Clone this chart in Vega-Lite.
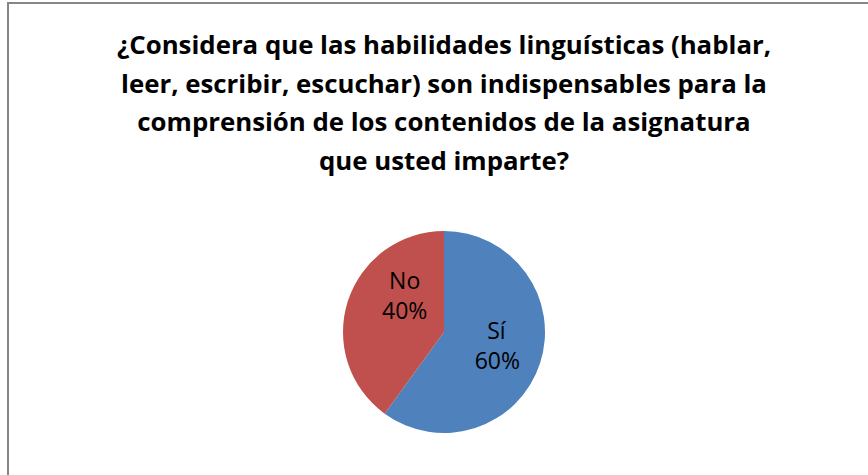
{
  "$schema": "https://vega.github.io/schema/vega-lite/v6.json",
  "autosize": {"type": "none"},
  "width": 872,
  "height": 658,
  "padding": {"left": 8, "top": 3, "right": 0, "bottom": 0},
  "background": "white",
  "view": {"stroke": "#868686", "strokeWidth": 2, "fill": "white"},
  "config": {
    "view": {"stroke": "#868686", "strokeWidth": 2},
    "font": "Open Sans"
  },
  "title": {
    "text": [
      "¿Considera que las habilidades  linguísticas (hablar,",
      "leer, escribir, escuchar) son  indispensables para la",
      "comprensión de los contenidos de la asignatura",
      "que usted imparte?"
    ],
    "orient": "top",
    "anchor": "middle",
    "frame": "group",
    "baseline": "alphabetic",
    "offset": -193,
    "font": "Open Sans",
    "fontSize": 25.8,
    "fontWeight": "bold",
    "color": "#000000",
    "lineHeight": 38.8
  },
  "data": {
    "values": [
      {"respuesta": "Sí", "valor": 60, "pct": "60%", "orden": 1},
      {"respuesta": "No", "valor": 40, "pct": "40%", "orden": 2}
    ]
  },
  "encoding": {
    "theta": {"field": "valor", "type": "quantitative", "stack": true},
    "order": {"field": "orden", "type": "quantitative"}
  },
  "layer": [
    {
      "mark": {"type": "arc", "radius": 101},
      "encoding": {
        "color": {
          "field": "respuesta",
          "type": "nominal",
          "scale": {"domain": ["Sí", "No"], "range": ["#4F81BD", "#C0504D"]},
          "legend": null
        }
      }
    },
    {
      "mark": {"type": "text", "radius": 54, "fontSize": 23, "font": "Open Sans", "color": "#000000", "baseline": "middle", "dx": 1, "dy": -17},
      "encoding": {
        "text": {"field": "respuesta"},
        "opacity": {"condition": {"test": "datum.respuesta === 'Sí'", "value": 1}, "value": 0}
      }
    },
    {
      "mark": {"type": "text", "radius": 54, "fontSize": 23, "font": "Open Sans", "color": "#000000", "baseline": "middle", "dx": 2, "dy": 13},
      "encoding": {
        "text": {"field": "pct"},
        "opacity": {"condition": {"test": "datum.respuesta === 'Sí'", "value": 1}, "value": 0}
      }
    },
    {
      "mark": {"type": "text", "radius": 54, "fontSize": 23, "font": "Open Sans", "color": "#000000", "baseline": "middle", "dx": 12, "dy": -33},
      "encoding": {
        "text": {"field": "respuesta"},
        "opacity": {"condition": {"test": "datum.respuesta === 'No'", "value": 1}, "value": 0}
      }
    },
    {
      "mark": {"type": "text", "radius": 54, "fontSize": 23, "font": "Open Sans", "color": "#000000", "baseline": "middle", "dx": 12, "dy": -3},
      "encoding": {
        "text": {"field": "pct"},
        "opacity": {"condition": {"test": "datum.respuesta === 'No'", "value": 1}, "value": 0}
      }
    }
  ]
}
